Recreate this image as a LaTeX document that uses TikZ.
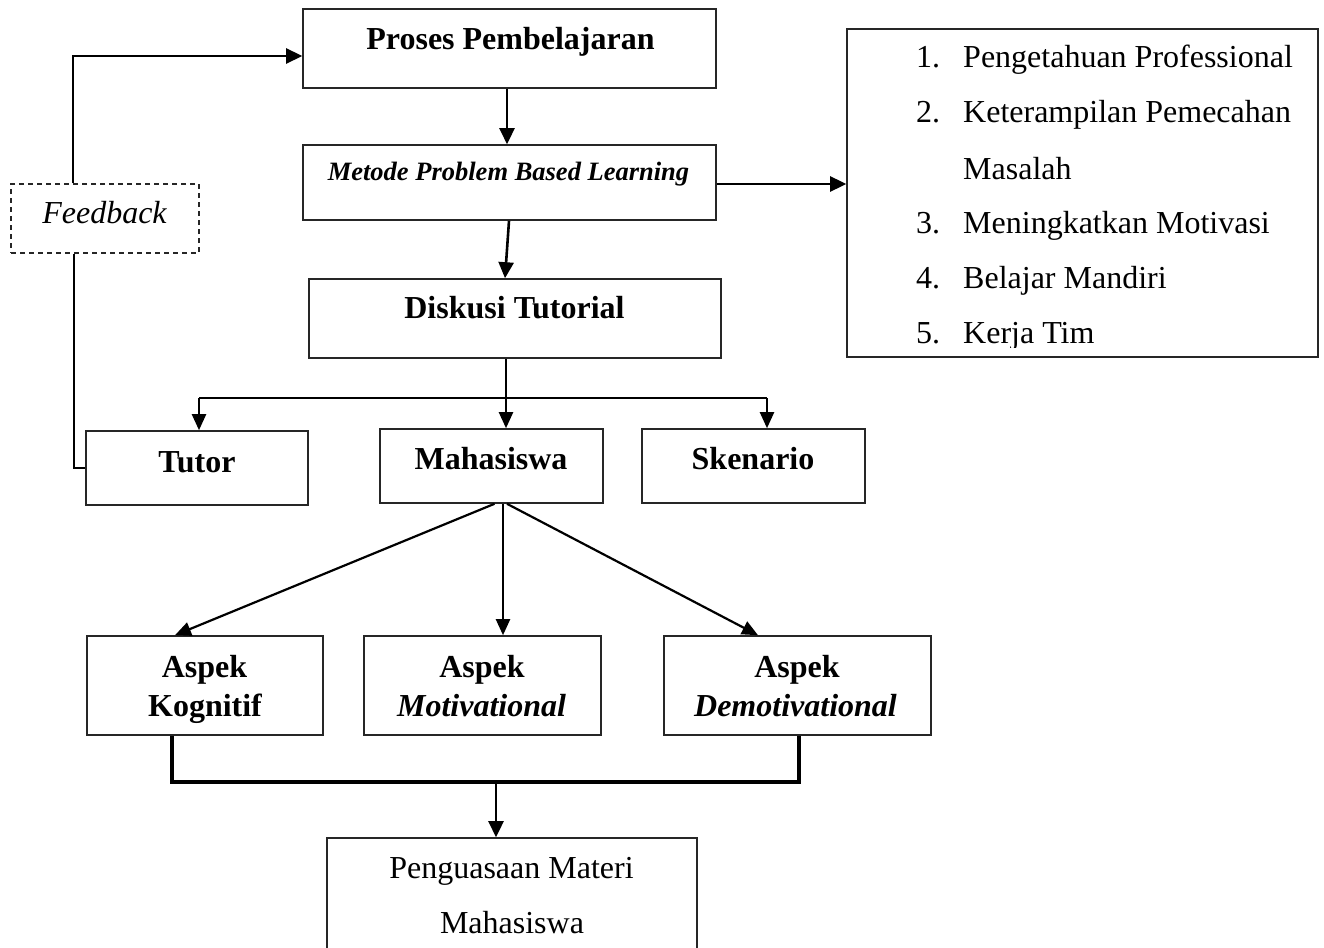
\documentclass[tikz,border=0pt]{standalone}
\usepackage{fontspec}
\setmainfont{Liberation Serif}
\usetikzlibrary{arrows.meta}
\tikzset{
  box/.style={draw=black!85, line width=1.6pt, rectangle, inner sep=0pt},
  dbox/.style={box, line width=1.2pt, dash pattern=on 5pt off 4pt},
  txt/.style={anchor=base, inner sep=0pt, font=\fontsize{32}{38}\selectfont},
  btxt/.style={txt, font=\fontsize{32}{38}\selectfont\bfseries},
  bitxt/.style={txt, font=\fontsize{32}{38}\selectfont\bfseries\itshape},
  itxt/.style={txt, font=\fontsize{32}{38}\selectfont\itshape},
  ltxt/.style={txt, anchor=base west},
  arr/.style={line width=2.6pt, -{Triangle[length=16pt,width=15pt]}},
  marr/.style={line width=2.2pt, -{Triangle[length=16pt,width=14pt]}},
  thinl/.style={line width=1.3pt},
  heavy/.style={line width=3.8pt}
}
\begin{document}
\begin{tikzpicture}[x=1pt,y=-1pt]
\useasboundingbox (0,0) rectangle (1324,947);

% boxes
\node[box, minimum width=413pt, minimum height=79pt] (proses) at (509.5,48.5) {};
\node[box, minimum width=413pt, minimum height=75pt] (metode) at (509.5,182.5) {};
\node[box, minimum width=412pt, minimum height=79pt] (diskusi) at (515,318.5) {};
\node[dbox, minimum width=188pt, minimum height=69pt] (feedback) at (105,218.5) {};
\node[box, minimum width=471pt, minimum height=328pt] (list) at (1082.5,193) {};
\node[box, minimum width=222pt, minimum height=74pt] (tutor) at (197,468) {};
\node[box, minimum width=223pt, minimum height=74pt] (mhs) at (491.5,466) {};
\node[box, minimum width=223pt, minimum height=74pt] (sken) at (753.5,466) {};
\node[box, minimum width=236pt, minimum height=99pt] (kog) at (205,685.5) {};
\node[box, minimum width=237pt, minimum height=99pt] (mot) at (482.5,685.5) {};
\node[box, minimum width=267pt, minimum height=99pt] (demot) at (797.5,685.5) {};
\node[box, minimum width=370pt, minimum height=130pt] (peng) at (512,903) {};

% texts
\node[btxt] (tproses) at (510.5,50) {Proses Pembelajaran};
\node[txt, font=\fontsize{26.5}{32}\selectfont\bfseries\itshape] (tmetode) at (508.5,180) {Metode Problem Based Learning};
\node[btxt] (tdiskusi) at (514.5,318) {Diskusi Tutorial};
\node[itxt] (tfeedback) at (104.5,223) {Feedback};
\node[btxt] (ttutor) at (197,472) {Tutor};
\node[btxt] (tmhs) at (491,469) {Mahasiswa};
\node[btxt] (tsken) at (753,469) {Skenario};
\node[btxt] (tkog1) at (204.5,677) {Aspek};
\node[btxt] (tkog2) at (205,716) {Kognitif};
\node[btxt] (tmot1) at (482,677) {Aspek};
\node[bitxt] (tmot2) at (481.5,716) {Motivational};
\node[btxt] (tdem1) at (797,677) {Aspek};
\node[bitxt] (tdem2) at (795.5,716) {Demotivational};
\node[txt] (tpeng1) at (511.5,878) {Penguasaan Materi};
\node[txt] (tpeng2) at (512,933) {Mahasiswa};

\begin{scope}
\clip (847,29) rectangle (1318,347);
\node[ltxt] (n1) at (916,68) {1.};
\node[ltxt] (l1) at (963,68) {Pengetahuan Professional};
\node[ltxt] (n2) at (916,123) {2.};
\node[ltxt] (l2) at (963,123) {Keterampilan Pemecahan};
\node[ltxt] (l2b) at (963,179) {Masalah};
\node[ltxt] (n3) at (916,233) {3.};
\node[ltxt] (l3) at (963,233) {Meningkatkan Motivasi};
\node[ltxt] (n4) at (916,288) {4.};
\node[ltxt] (l4) at (963,288) {Belajar Mandiri};
\node[ltxt] (n5) at (916,343) {5.};
\node[ltxt] (l5) at (963,343) {Kerja Tim};
\end{scope}

% connectors
\draw[arr] ([xshift=-32pt]feedback.north) |- ([yshift=-7.5pt]proses.west);
\draw[thinl] ([xshift=-31pt]feedback.south) |- (tutor.west);
\draw[arr] ([xshift=-2.5pt]proses.south) -- ([xshift=-2.5pt]metode.north);
\draw[arr] ([xshift=-0.5pt]metode.south) -- ([xshift=-10pt]diskusi.north);
\coordinate (mr) at ([yshift=-1.5pt]metode.east);
\draw[arr] (mr) -- (mr -| list.west);

\coordinate (bm) at (506,398);
\coordinate (bl) at (199,398);
\coordinate (bR) at (767,398);
\draw[thinl] (diskusi.south -| bm) -- (bm);
\draw[thinl] (bl) -- (bR);
\draw[marr] (bl) -- (bl |- tutor.north);
\draw[marr] (bm) -- (bm |- mhs.north);
\draw[marr] (bR) -- (bR |- sken.north);

\draw[marr] ([xshift=3pt]mhs.south) -- ([xshift=-30pt]kog.north);
\draw[marr] ([xshift=11.5pt]mhs.south) -- ([xshift=20.5pt]mot.north);
\draw[marr] ([xshift=15.5pt]mhs.south) -- ([xshift=-39.5pt]demot.north);

\coordinate (jn) at (496,782);
\draw[heavy, line join=miter] ([xshift=-33pt]kog.south) |- (jn) -| ([xshift=1.5pt]demot.south);
\draw[arr] (jn) -- (jn |- peng.north);
\end{tikzpicture}
\end{document}
